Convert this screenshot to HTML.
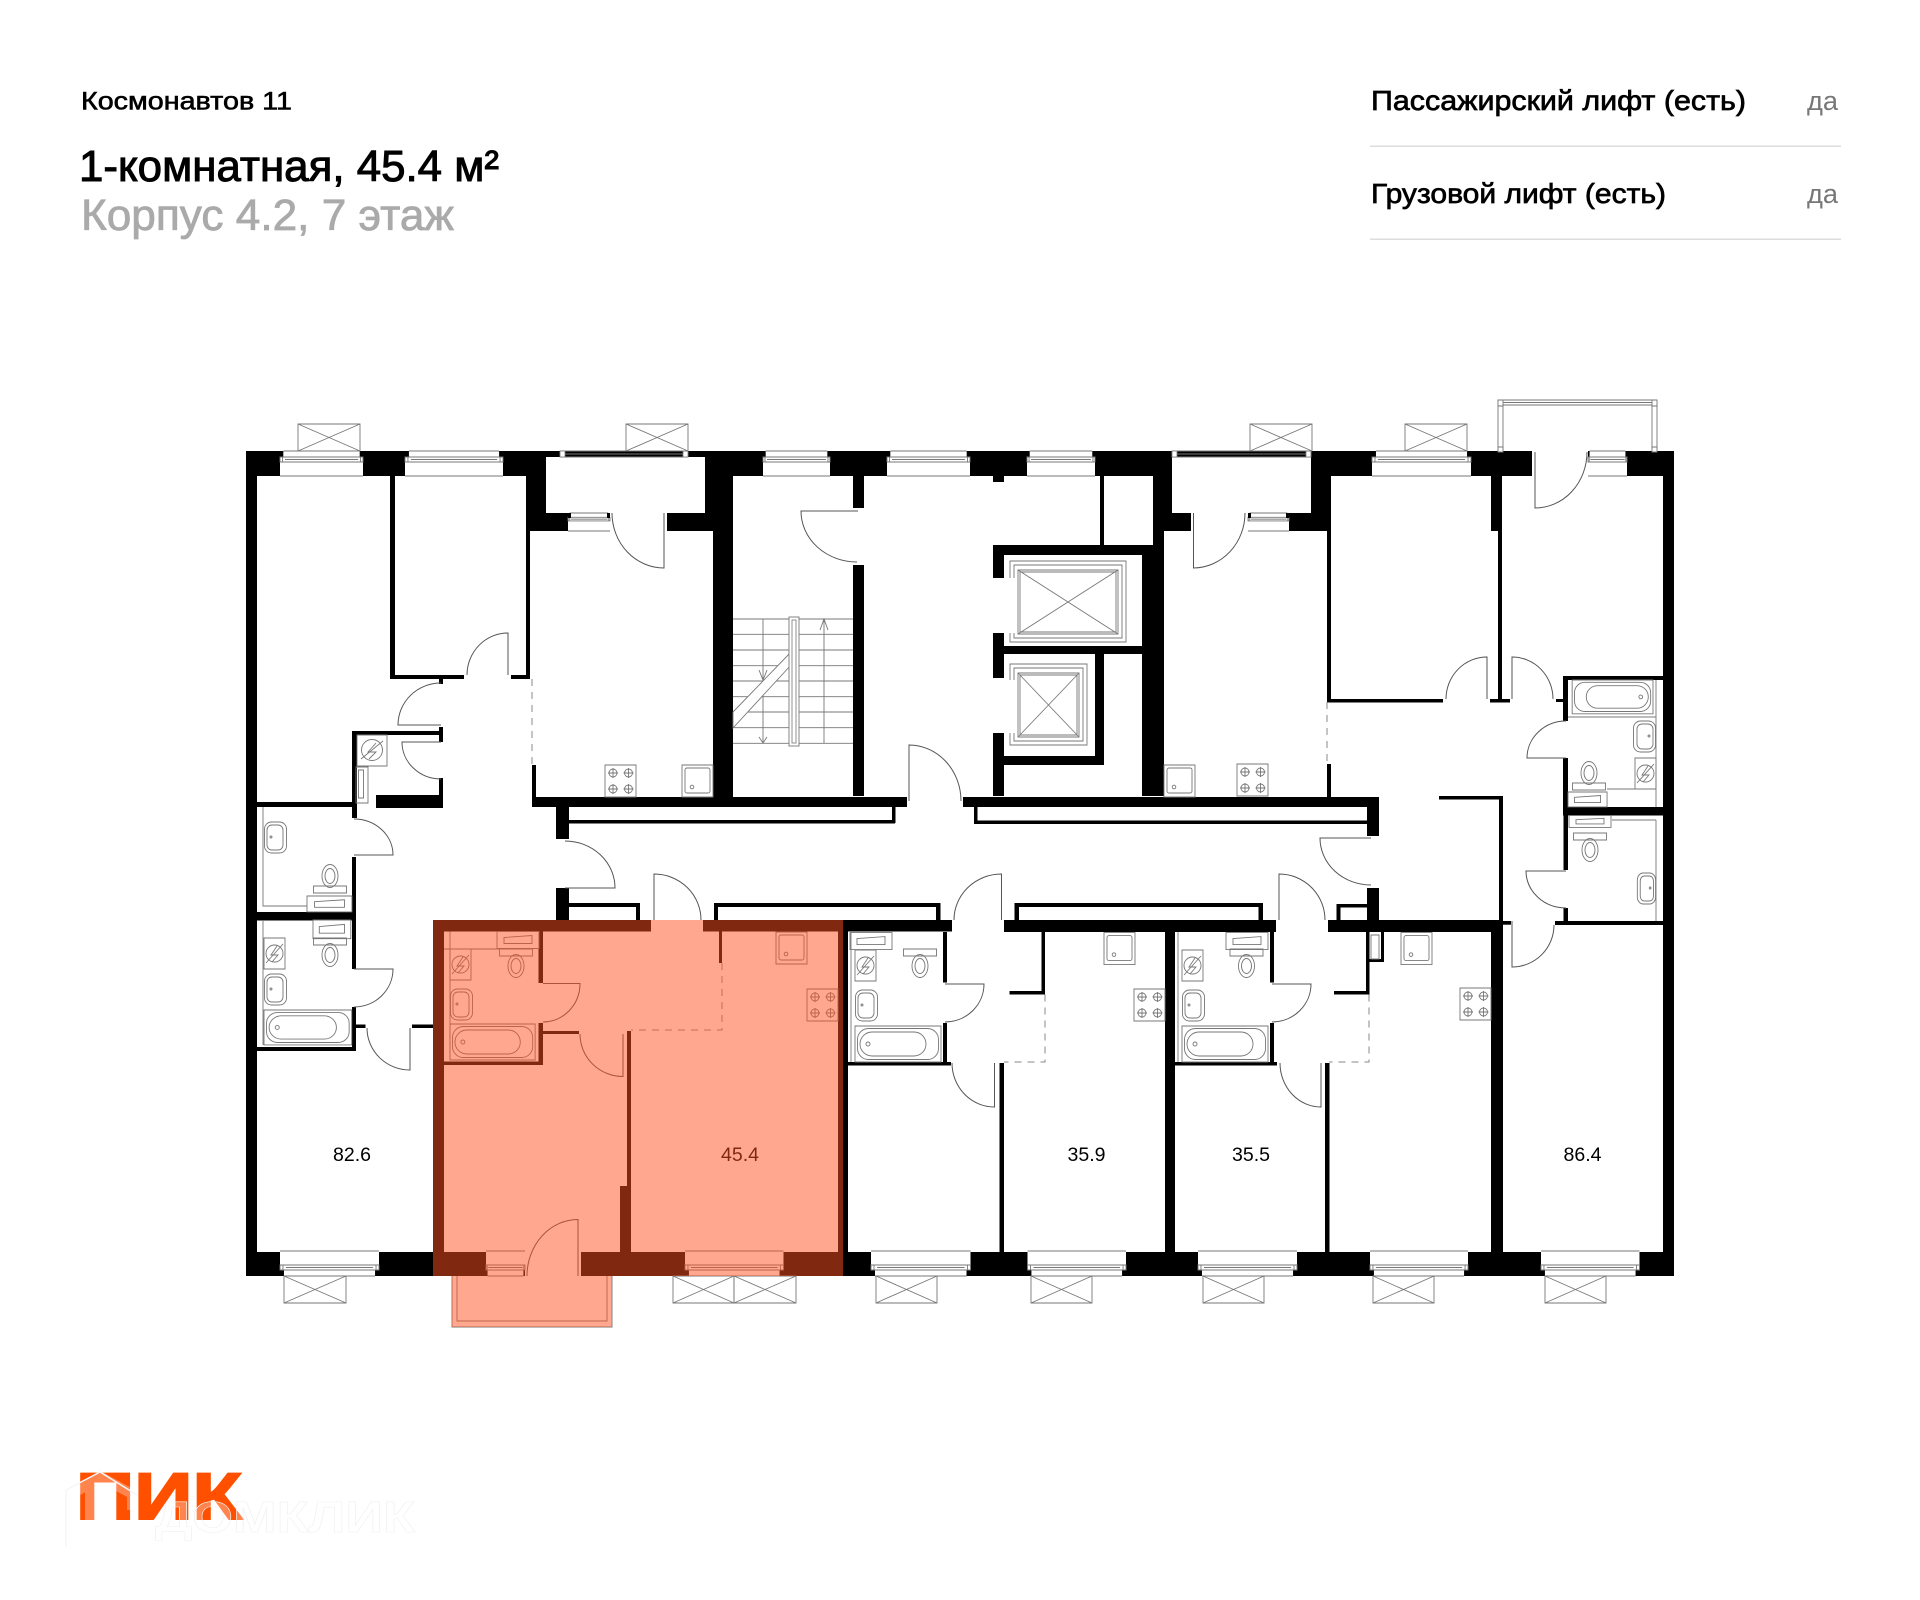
<!DOCTYPE html>
<html lang="ru"><head><meta charset="utf-8"><title>Космонавтов 11</title>
<style>
html,body{margin:0;padding:0;background:#fff;width:1920px;height:1600px;overflow:hidden}
svg{display:block}
text{font-family:"Liberation Sans",sans-serif}
.l{fill:none;stroke:#777;stroke-width:.9}
.l *{vector-effect:non-scaling-stroke}
.d{fill:none;stroke:#555;stroke-width:1}
.n{font-size:19px;fill:#000;text-anchor:middle}
</style></head><body>
<svg width="1920" height="1600" viewBox="0 0 1920 1600" xmlns="http://www.w3.org/2000/svg">
<defs>
<g id="wt">
<rect x="0" y="457" width="100" height="19" fill="#fff"/><rect x="4" y="451" width="92" height="6" fill="#fff"/>
<g class="l"><path d="M0 476H100M4 451H96M0 457H100V462H0ZM3 457V462M97 457V462M6 459.500H94"/></g>
</g>
<g id="cross"><g class="l"><rect x="0" y="0" width="100" height="100"/><path d="M0 0L100 100M100 0L0 100"/></g></g>
<g id="bath" class="l"><rect x="0" y="0" width="86" height="36"/><rect x="2.500" y="2.500" width="81" height="31" rx="11"/><rect x="5" y="6" width="66" height="24" rx="12"/><circle cx="13" cy="18" r="2"/></g>
<g id="sink" class="l"><rect x="0.500" y="0" width="22" height="31" rx="7"/><rect x="3" y="3" width="16" height="25" rx="5"/><circle cx="7" cy="15" r="1"/></g>
<g id="meter" class="l"><rect x="0" y="0" width="21" height="31"/><circle cx="10.500" cy="15.500" r="8.500"/><path d="M2 25L19 6M13 8L7 17H14L8 24"/></g>
<g id="toilet" class="l"><ellipse cx="0" cy="0" rx="8" ry="11.500"/><ellipse cx="0" cy="0" rx="5" ry="7.500"/><rect x="-16.500" y="-17" width="33" height="7" fill="none"/></g>
<g id="wash" class="l"><rect x="0" y="0" width="42" height="17"/><path d="M7 6L35 4V12H7Z"/></g>
<g id="cook" class="l"><rect x="0" y="0" width="31" height="32"/><g id="bn"><circle cx="8" cy="8" r="4"/><path d="M8 3V13M3 8H13"/></g><use href="#bn" x="15.500"/><use href="#bn" y="16"/><use href="#bn" x="15.500" y="16"/></g>
<g id="shw" class="l"><rect x="0" y="0" width="31" height="32"/><rect x="3" y="3" width="25" height="25" rx="2"/><circle cx="10" cy="22" r="1.800"/></g>
</defs>

<rect width="1920" height="1600" fill="#fff"/>

<!-- header text -->
<g style="stroke:#000;stroke-width:.6">
<text x="81" y="109.500" font-size="25" textLength="211" lengthAdjust="spacingAndGlyphs">Космонавтов 11</text>
<text x="79" y="181" font-size="44" textLength="420" lengthAdjust="spacingAndGlyphs" style="stroke-width:1">1-комнатная, 45.4 м²</text>
<text x="1371" y="110" font-size="28" textLength="375" lengthAdjust="spacingAndGlyphs" style="stroke-width:.7">Пассажирский лифт (есть)</text>
<text x="1371" y="203" font-size="28" textLength="295" lengthAdjust="spacingAndGlyphs" style="stroke-width:.7">Грузовой лифт (есть)</text>
</g>
<text x="81" y="230" font-size="44" fill="#aaa" textLength="373" lengthAdjust="spacingAndGlyphs" style="stroke:#aaa;stroke-width:.8">Корпус 4.2, 7 этаж</text>
<text x="1807" y="110" font-size="27" fill="#777" textLength="31" lengthAdjust="spacingAndGlyphs">да</text>
<text x="1807" y="203" font-size="27" fill="#777" textLength="31" lengthAdjust="spacingAndGlyphs">да</text>
<rect x="1370" y="145.500" width="471" height="1.500" fill="#ddd"/>
<rect x="1370" y="238.500" width="471" height="1.500" fill="#ddd"/>

<!-- walls -->
<g fill="#000">
<rect x="246" y="451" width="1428" height="25"/>
<rect x="246" y="451" width="11" height="825"/>
<rect x="1663" y="451" width="11" height="825"/>
<rect x="246" y="1252" width="1428" height="24"/>
<rect x="390" y="476" width="5" height="203"/>
<rect x="390" y="675" width="74" height="4"/><rect x="511" y="675" width="19" height="4"/>
<rect x="526" y="476" width="4" height="203"/><rect x="526" y="451" width="20" height="80"/>
<rect x="546" y="513" width="22" height="18"/><rect x="667" y="513" width="38" height="18"/>
<rect x="705" y="451" width="28" height="80"/><rect x="713" y="476" width="20" height="321"/>
<rect x="352" y="731" width="5" height="87"/><rect x="352" y="731" width="91" height="4"/>
<rect x="439" y="727" width="4" height="15"/><rect x="439" y="778" width="4" height="30"/><rect x="376" y="795" width="67" height="13"/>
<rect x="439" y="679" width="4" height="5"/>
<rect x="257" y="802" width="100" height="5"/>
<rect x="352" y="857" width="4" height="112"/><rect x="352" y="1007" width="4" height="44"/>
<rect x="257" y="912" width="99" height="8.500"/><rect x="257" y="1047" width="99" height="4"/>
<rect x="356" y="1024.500" width="9.500" height="3.500"/><rect x="412" y="1024.500" width="21" height="3.500"/>
<rect x="532" y="765" width="4" height="32"/>
<rect x="532" y="797" width="375" height="10"/><rect x="963" y="797" width="416" height="10"/>
<rect x="556" y="807" width="13" height="32"/><rect x="556" y="888" width="13" height="32"/>
<rect x="568" y="820" width="327" height="3.500"/><rect x="892" y="807" width="3.500" height="16"/>
<rect x="974" y="820.500" width="393" height="3.500"/><rect x="974" y="807" width="3.500" height="16"/>
<rect x="1367" y="807" width="12" height="29"/><rect x="1367" y="888" width="12" height="32"/>
<rect x="569" y="903" width="71" height="4"/><rect x="636" y="903" width="4" height="17"/>
<rect x="714" y="903" width="226" height="4"/><rect x="714" y="903" width="4" height="17"/><rect x="936" y="903" width="4.500" height="17"/>
<rect x="1014.500" y="903" width="248.500" height="4"/><rect x="1014.500" y="903" width="4.500" height="17"/><rect x="1258.500" y="903" width="4.500" height="17"/>
<rect x="1336.500" y="904" width="31" height="3.500"/><rect x="1336.500" y="904" width="4" height="16"/>
<rect x="433" y="920" width="218" height="11.500"/><rect x="703" y="920" width="249" height="11.500"/>
<rect x="1004" y="920" width="272" height="12"/><rect x="1328" y="920" width="174" height="12"/>
<rect x="1502" y="921" width="9" height="3.700"/><rect x="1555" y="921" width="108" height="4"/>
<rect x="433" y="920" width="11" height="356"/><rect x="838" y="920" width="10" height="356"/>
<rect x="538.500" y="931" width="4.500" height="52"/><rect x="538.500" y="1023" width="4.500" height="42"/>
<rect x="444" y="1061.500" width="99" height="3.500"/><rect x="543" y="1031" width="36" height="3"/>
<rect x="627" y="1031" width="4" height="155"/><rect x="620" y="1186" width="11" height="66"/>
<rect x="719" y="931" width="3" height="32"/>
<rect x="943" y="932" width="4" height="50.500"/><rect x="943" y="1023" width="4" height="42"/><rect x="848" y="1062" width="103" height="3.500"/>
<rect x="999.500" y="1063" width="4.500" height="189"/>
<rect x="1041.500" y="932" width="3.500" height="62.500"/><rect x="1009.500" y="991" width="35.500" height="3.500"/>
<rect x="1165" y="932" width="10" height="320"/>
<rect x="1270" y="932" width="4" height="50.500"/><rect x="1270" y="1023" width="4" height="42"/><rect x="1175" y="1062" width="102" height="3.500"/>
<rect x="1325" y="1063" width="4.500" height="189"/>
<rect x="1366" y="932" width="3.500" height="62.500"/><rect x="1334" y="991" width="35.500" height="3.500"/>
<rect x="1491" y="920" width="12" height="332"/>
<rect x="1499" y="796" width="4" height="124"/><rect x="1439" y="796" width="64" height="3.500"/>
<rect x="853" y="476" width="11" height="32"/><rect x="853" y="565" width="11" height="231"/>
<rect x="993" y="476" width="11" height="6"/>
<rect x="993" y="545" width="160" height="10"/><rect x="993" y="545" width="11" height="33"/><rect x="993" y="633" width="11" height="45"/>
<rect x="1004" y="646" width="138" height="8"/><rect x="1095" y="654" width="9" height="111"/><rect x="1004" y="756" width="100" height="9"/><rect x="993" y="733" width="11" height="63"/>
<rect x="1142" y="545" width="22" height="251"/><rect x="1100" y="476" width="4" height="69"/>
<rect x="1153" y="451" width="19" height="80"/><rect x="1153" y="531" width="11" height="14"/><rect x="1172" y="513" width="19" height="18"/>
<rect x="1289" y="513" width="22" height="18"/><rect x="1311" y="451" width="20" height="80"/>
<rect x="1327" y="531" width="4" height="171"/><rect x="1327" y="699" width="116" height="3.500"/>
<rect x="1327" y="764" width="4" height="33"/>
<rect x="1491" y="476" width="11" height="55"/><rect x="1498" y="531" width="4" height="171"/><rect x="1490" y="699" width="20" height="3.500"/>
<rect x="1556" y="699" width="7" height="3"/>
<rect x="1563" y="676" width="5" height="45"/><rect x="1563" y="758" width="5" height="49"/><rect x="1563" y="676" width="100" height="4"/>
<rect x="1563" y="807" width="100" height="8.500"/><rect x="1563.500" y="815" width="4.500" height="55"/><rect x="1563.500" y="908" width="4.500" height="17"/>
<rect x="1381" y="932" width="3" height="30"/><rect x="1368.500" y="959" width="15.500" height="3"/>
</g>

<!-- openings -->
<g fill="#fff">
<rect x="546" y="457" width="159" height="56"/><rect x="1172" y="457" width="139" height="56"/>
<rect x="1532" y="451" width="56" height="25"/><rect x="525" y="1252" width="56" height="24"/>
</g>
<g>
<path class="l" d="M560 451H688V457H560ZM560 454H688M1172 451H1311V457H1172ZM1172 454H1311"/>
<rect x="560" y="451" width="5" height="6" fill="#fff" stroke="#777" stroke-width=".8"/><rect x="683" y="451" width="5" height="6" fill="#fff" stroke="#777" stroke-width=".8"/>
<rect x="1172" y="451" width="5" height="6" fill="#fff" stroke="#777" stroke-width=".8"/><rect x="1306" y="451" width="5" height="6" fill="#fff" stroke="#777" stroke-width=".8"/>
</g>
<!-- windows -->
<use href="#wt" transform="translate(280 0) scale(.83 1)"/>
<use href="#wt" transform="translate(405 0) scale(.98 1)"/>
<use href="#wt" transform="translate(763 0) scale(.67 1)"/>
<use href="#wt" transform="translate(887 0) scale(.83 1)"/>
<use href="#wt" transform="translate(1027 0) scale(.68 1)"/>
<use href="#wt" transform="translate(1372 0) scale(.99 1)"/>
<use href="#wt" transform="translate(1588 0) scale(.39 1)"/>
<use href="#wt" transform="translate(568 513) scale(.42 .72) translate(0 -451)"/>
<use href="#wt" transform="translate(1248 513) scale(.41 .72) translate(0 -451)"/>
<use href="#wt" transform="translate(280 1727) scale(.99 -1)"/>
<use href="#wt" transform="translate(685 1727) scale(.985 -1)"/>
<use href="#wt" transform="translate(871 1727) scale(.995 -1)"/>
<use href="#wt" transform="translate(1027.500 1727) scale(.985 -1)"/>
<use href="#wt" transform="translate(1198 1727) scale(.99 -1)"/>
<use href="#wt" transform="translate(1370 1727) scale(.98 -1)"/>
<use href="#wt" transform="translate(1541 1727) scale(.985 -1)"/>
<use href="#wt" transform="translate(486 1727) scale(.39 -1)"/>
<g fill="#000"><rect x="607" y="513" width="3" height="5"/><rect x="568" y="513" width="3" height="5"/><rect x="1248" y="513" width="3" height="5"/><rect x="1286" y="513" width="3" height="5"/></g>

<!-- crosses -->
<use href="#cross" transform="translate(298 424) scale(.62 .27)"/>
<use href="#cross" transform="translate(626 424) scale(.62 .27)"/>
<use href="#cross" transform="translate(1250 424) scale(.62 .27)"/>
<use href="#cross" transform="translate(1405 424) scale(.62 .27)"/>
<use href="#cross" transform="translate(284 1276) scale(.62 .27)"/>
<use href="#cross" transform="translate(673 1276) scale(.61 .27)"/>
<use href="#cross" transform="translate(734 1276) scale(.62 .27)"/>
<use href="#cross" transform="translate(876 1276) scale(.61 .27)"/>
<use href="#cross" transform="translate(1031 1276) scale(.61 .27)"/>
<use href="#cross" transform="translate(1203 1276) scale(.61 .27)"/>
<use href="#cross" transform="translate(1373 1276) scale(.61 .27)"/>
<use href="#cross" transform="translate(1545 1276) scale(.61 .27)"/>

<!-- balconies -->
<g class="l">
<path d="M1498 400H1657V405H1498ZM1498 402.500H1657"/>
<path d="M1498 405V451H1503V405M1652 405V451H1657V405"/>
<rect x="1498" y="400" width="5" height="6" fill="#fff"/><rect x="1652" y="400" width="5" height="6" fill="#fff"/>
<rect x="1498" y="447" width="5" height="5" fill="#fff"/><rect x="1652" y="447" width="5" height="5" fill="#fff"/>
<path d="M452 1276V1327H612V1276M457 1276V1321H607V1276"/>
</g>

<!-- doors -->
<g class="d">
<path d="M664 513V568A52 55 0 0 1 612 513"/>
<path d="M1193.500 513V568A52 55 0 0 0 1245 513"/>
<path d="M1535 452V508A52 56 0 0 0 1587 452"/>
<path d="M508 675V633A41 42 0 0 0 467 675"/>
<path d="M441 725H398A43 42 0 0 1 441 683"/>
<path d="M441 742H402A39 37 0 0 0 441 779"/>
<path d="M354 855H393A39 36 0 0 0 354 819"/>
<path d="M354 969H393A39 38 0 0 1 354 1007"/>
<path d="M410 1028V1070A43 42 0 0 1 367 1028"/>
<path d="M565 888H615A50 47 0 0 0 565 841"/>
<path d="M654 920V874A47 46 0 0 1 701 920"/>
<path d="M543 983.500H580A37 38.500 0 0 1 543 1022"/>
<path d="M623 1034V1076.500A43 42.500 0 0 1 580 1034"/>
<path d="M578 1276V1219.500A51 56.500 0 0 0 527 1276"/>
<path d="M909 801V745A52 56 0 0 1 961 801"/>
<path d="M858 511H801A56 51 0 0 0 857 562"/>
<path d="M1001.500 920V874A47.500 46 0 0 0 954 920"/>
<path d="M1279 920V874A46 46 0 0 1 1325 920"/>
<path d="M945 984H984A39 38 0 0 1 945 1022"/>
<path d="M1272 984H1311A39 38 0 0 1 1272 1022"/>
<path d="M994.500 1063V1107A42.500 44 0 0 1 952 1063"/>
<path d="M1321 1063V1107A41 44 0 0 1 1280 1063"/>
<path d="M1371 838H1320A51 47 0 0 0 1371 885"/>
<path d="M1512 921V967A42 42 0 0 0 1554 925"/>
<path d="M1566 871H1526A40 37 0 0 0 1566 908"/>
<path d="M1487 699V657A41 42 0 0 0 1446 699"/>
<path d="M1512 699V657A41 42 0 0 1 1553 699"/>
<path d="M1566 758H1527A39 37 0 0 1 1566 721"/>
</g>
<!-- dashed -->
<g fill="none" stroke="#888" stroke-width="1" stroke-dasharray="7 6">
<path d="M532 679V765"/><path d="M722 963V1030H631"/><path d="M1045 994.500V1062H1004"/><path d="M1369 994.500V1062H1329"/><path d="M1327 702V764"/>
</g>

<!-- stairs -->
<g class="l">
<path d="M733 619H853M733 634.300H853M733 650H853M733 665.700H853M733 681H853M733 696.700H853M733 712H853M733 727.700H853M733 743.300H853"/>
<path d="M763 619V743M824 619V743M759 737L763 743L767 737M759 670L763 680L767 670M820 630L824 619L828 630"/>
</g>
<polygon points="733,712 791,652 791,665 733,728" fill="#fff" stroke="#777" stroke-width=".9"/>
<rect x="789" y="617" width="10" height="129" fill="#fff" stroke="#777" stroke-width=".9"/><rect x="792" y="620" width="4" height="123" fill="none" stroke="#777" stroke-width=".8"/>

<!-- lifts -->
<g class="l">
<path d="M1010 578V561H1126V642H1010V633M1014 578V565H1122V638H1014V633"/>
<rect x="1018" y="570" width="100" height="64"/><rect x="1020" y="572" width="96" height="60"/><path d="M1018 570L1118 634M1118 570L1018 634"/>
<path d="M1010 680V664H1087V745H1010V733M1014 680V668H1083V741H1014V733"/>
<rect x="1018" y="673" width="61" height="64"/><rect x="1020" y="675" width="57" height="60"/><path d="M1018 673L1079 737M1079 673L1018 737"/>
</g>

<!-- closet -->
<g class="l"><rect x="357" y="735" width="30" height="31"/><circle cx="372" cy="750" r="10.500"/><path d="M361 759L383 741M376 743L368 752H376L369 759"/></g>
<g class="l"><rect x="356" y="767" width="12" height="36"/><rect x="358.500" y="770" width="5" height="28"/></g>

<!-- fixtures -->
<use href="#cook" x="605" y="765"/><use href="#shw" x="682" y="765"/><use href="#shw" x="1164" y="765"/><use href="#cook" x="1237" y="764"/>
<!-- left baths -->
<g class="l"><path d="M263 807V906H307"/><path d="M263 1045V920"/></g>
<use href="#sink" x="264" y="822"/><use href="#toilet" transform="translate(330 876) scale(1 -1)"/>
<use href="#wash" transform="translate(307 896) scale(1.07 .94)"/>
<use href="#wash" transform="translate(313 920) scale(.9 1.1)"/>
<use href="#toilet" transform="translate(330 955)"/>
<use href="#meter" x="264" y="938"/><use href="#sink" x="264" y="974"/><use href="#bath" transform="translate(264 1010) scale(1.02 .97)"/>
<!-- highlighted -->
<g class="l"><path d="M450 931.500V1060M444 949H500"/></g>
<use href="#wash" transform="translate(497 931.500)"/><use href="#toilet" transform="translate(516 966)"/>
<use href="#meter" x="450" y="949"/><use href="#sink" x="450" y="989"/><use href="#bath" transform="translate(450 1024) scale(.99 1)"/>
<use href="#shw" x="776" y="932"/><use href="#cook" x="807" y="989"/>
<!-- apt 3 -->
<g class="l"><path d="M851 932V1062"/></g>
<use href="#wash" x="850" y="932.600"/><use href="#toilet" transform="translate(920 966)"/>
<use href="#meter" x="855" y="950"/><use href="#sink" x="855" y="990"/><use href="#bath" x="855" y="1026"/>
<use href="#shw" x="1104" y="932.600"/><use href="#cook" x="1134" y="989"/>
<!-- apt 4 -->
<g class="l"><path d="M1178 932V1062"/></g>
<use href="#wash" x="1226" y="932.600"/><use href="#toilet" transform="translate(1246.500 966)"/>
<use href="#meter" x="1182" y="950"/><use href="#sink" x="1182" y="990"/><use href="#bath" x="1182" y="1026"/>
<use href="#shw" x="1401" y="932.600"/><use href="#cook" x="1460" y="988"/>
<g class="l"><rect x="1371" y="935" width="8" height="24"/></g>
<!-- right baths -->
<g class="l"><path d="M1656 680V807M1568 717H1656M1607 789H1656M1656 820V921M1612 820H1656"/></g>
<use href="#bath" transform="translate(1653 680) scale(-.94 .94)"/>
<use href="#sink" transform="translate(1656 721) scale(-1 1)"/>
<use href="#meter" x="1635" y="758"/>
<use href="#toilet" transform="translate(1589 773) scale(1 -1)"/>
<use href="#wash" transform="translate(1568 792) scale(.93 .88)"/>
<use href="#wash" transform="translate(1569 815.500) scale(1 .7)"/>
<use href="#toilet" transform="translate(1590 850)"/>
<use href="#sink" transform="translate(1656 873) scale(-.83 1)"/>

<!-- labels -->
<text class="n" x="352" y="1161" textLength="38" lengthAdjust="spacingAndGlyphs">82.6</text>
<text class="n" x="740" y="1161" textLength="38" lengthAdjust="spacingAndGlyphs">45.4</text>
<text class="n" x="1086.500" y="1161" textLength="38" lengthAdjust="spacingAndGlyphs">35.9</text>
<text class="n" x="1251" y="1161" textLength="38" lengthAdjust="spacingAndGlyphs">35.5</text>
<text class="n" x="1582.500" y="1161" textLength="38" lengthAdjust="spacingAndGlyphs">86.4</text>

<!-- highlight overlay -->
<path d="M433 920H843V1276H612V1327H452V1276H433Z" fill="rgb(255,80,32)" fill-opacity=".5"/>

<!-- logo -->
<text x="76" y="1519" font-size="66" font-weight="700" fill="#ff5000" stroke="#ff5000" stroke-width="2" textLength="166" lengthAdjust="spacingAndGlyphs">ПИК</text>
<!-- watermark -->
<path d="M72 1546V1494L101 1477L132 1494V1510M90 1546V1486H120" fill="none" stroke="#fff" stroke-opacity=".3" stroke-width="10"/>
<path d="M66 1490L100 1472L137 1495M66 1490V1547" fill="none" stroke="#f6f6f6" stroke-width="1.500"/>
<text x="155" y="1532" font-size="44" font-weight="700" fill="#fff" fill-opacity=".3" stroke="#f0f0f0" stroke-width=".6" textLength="260" lengthAdjust="spacingAndGlyphs">ДОМКЛИК</text>
</svg>
</body></html>
